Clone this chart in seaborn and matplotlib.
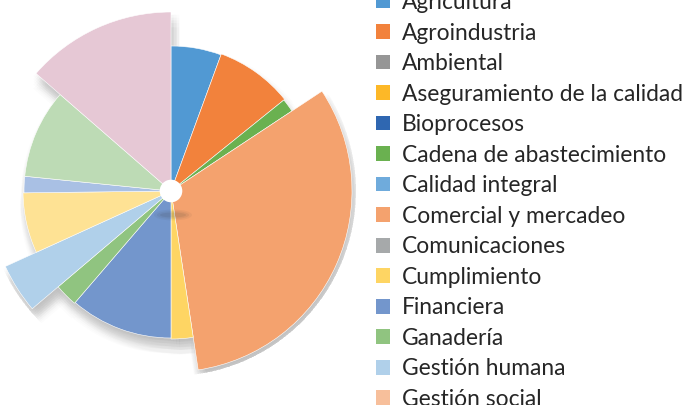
import numpy as np
import pandas as pd
import matplotlib
matplotlib.use("Agg")
import matplotlib.pyplot as plt
import matplotlib.patheffects as pe
from matplotlib.patches import Patch, Ellipse
import seaborn as sns

# ---- data ----
categories = ["Agricultura", "Agroindustria", "Ambiental", "Aseguramiento de la calidad",
              "Bioprocesos", "Cadena de abastecimiento", "Calidad integral",
              "Comercial y mercadeo", "Comunicaciones", "Cumplimiento", "Financiera",
              "Ganadería", "Gestión humana", "Gestión social", "Innovación",
              "Logística", "Mantenimiento", "Producción", "Seguridad y salud en el trabajo"]
shares = [5.6, 8.6, 0, 0, 0, 1.5, 0, 31.9, 0, 2.4, 11.3, 2.5, 4.4, 0, 0, 6.6, 1.8, 9.8, 13.6]
radius_z = [145, 146, 0, 0, 0, 145, 0, 181, 0, 148, 147, 148, 182, 0, 0, 148, 147, 147, 179]
colors = ["#5199d3", "#f2823c", "#969696", "#fdb827", "#2f67b1", "#6ab150", "#6fabdc",
          "#f4a26e", "#a6a9aa", "#fed563", "#7396cc", "#90c480", "#b0d0ea", "#f7bf9b",
          "#c9cbcc", "#fee294", "#a9c0e4", "#bddbb5", "#e6c8d5"]

df = pd.DataFrame({"cat": categories, "share": shares, "z": radius_z, "color": colors})

sns.set_theme(style="white")
plt.rcParams["font.family"] = ["Lato", "DejaVu Sans"]

W, H = 686, 405
fig = plt.figure(figsize=(W / 100, H / 100), dpi=100)
fig.patch.set_facecolor("white")

cx, cy, R = 171, 191, 185
ax = fig.add_axes([(cx - R) / W, (H - cy - R) / H, 2 * R / W, 2 * R / H], projection="polar")
ax.set_theta_zero_location("N")
ax.set_theta_direction(-1)
ax.set_ylim(0, R)
ax.set_axis_off()

drawn = df[df["share"] > 0].copy()
widths = drawn["share"].to_numpy() / drawn["share"].sum() * 2 * np.pi
starts = np.concatenate([[0], np.cumsum(widths)[:-1]])

# soft shadow
shadow_fx = []
for dx in (-3, -1, 1, 3, 5):
    for dy in (-11, -8, -6, -4, -2):
        shadow_fx.append(pe.SimplePatchShadow(offset=(dx + 1, dy), shadow_rgbFace="#303030", alpha=0.013))
ax.bar(starts, drawn["z"], width=widths, bottom=0, align="edge",
       color="none", edgecolor="none", zorder=1, path_effects=shadow_fx)

ax.bar(starts, drawn["z"], width=widths, bottom=0, align="edge",
       color=drawn["color"], edgecolor="white", linewidth=0.4, zorder=2)

# small shadow under centre hole
for k, a in enumerate([0.10, 0.08, 0.06]):
    e = Ellipse(((cx + 2) / W, 1 - 215 / H), (26 + 6 * k) / W, (5 + 3 * k) / H,
                transform=fig.transFigure, color="#404040", alpha=a, zorder=3, lw=0)
    fig.patches.append(e)

# white centre hole
ax.bar(0, 11.3, width=2 * np.pi, bottom=0, color="white", edgecolor="none", zorder=4)

handles = [Patch(facecolor=c, edgecolor="none") for c in df["color"]]
leg = fig.legend(handles, df["cat"], loc="upper left", bbox_to_anchor=(376 / W, 1 + 8 / H),
                 frameon=False, fontsize=16.4, handlelength=0.62, handleheight=0.62,
                 handletextpad=0.53, labelspacing=0.418, borderaxespad=0, borderpad=0)
for t in leg.get_texts():
    t.set_color("#262626")

fig.savefig("out.png", dpi=100, facecolor="white")
